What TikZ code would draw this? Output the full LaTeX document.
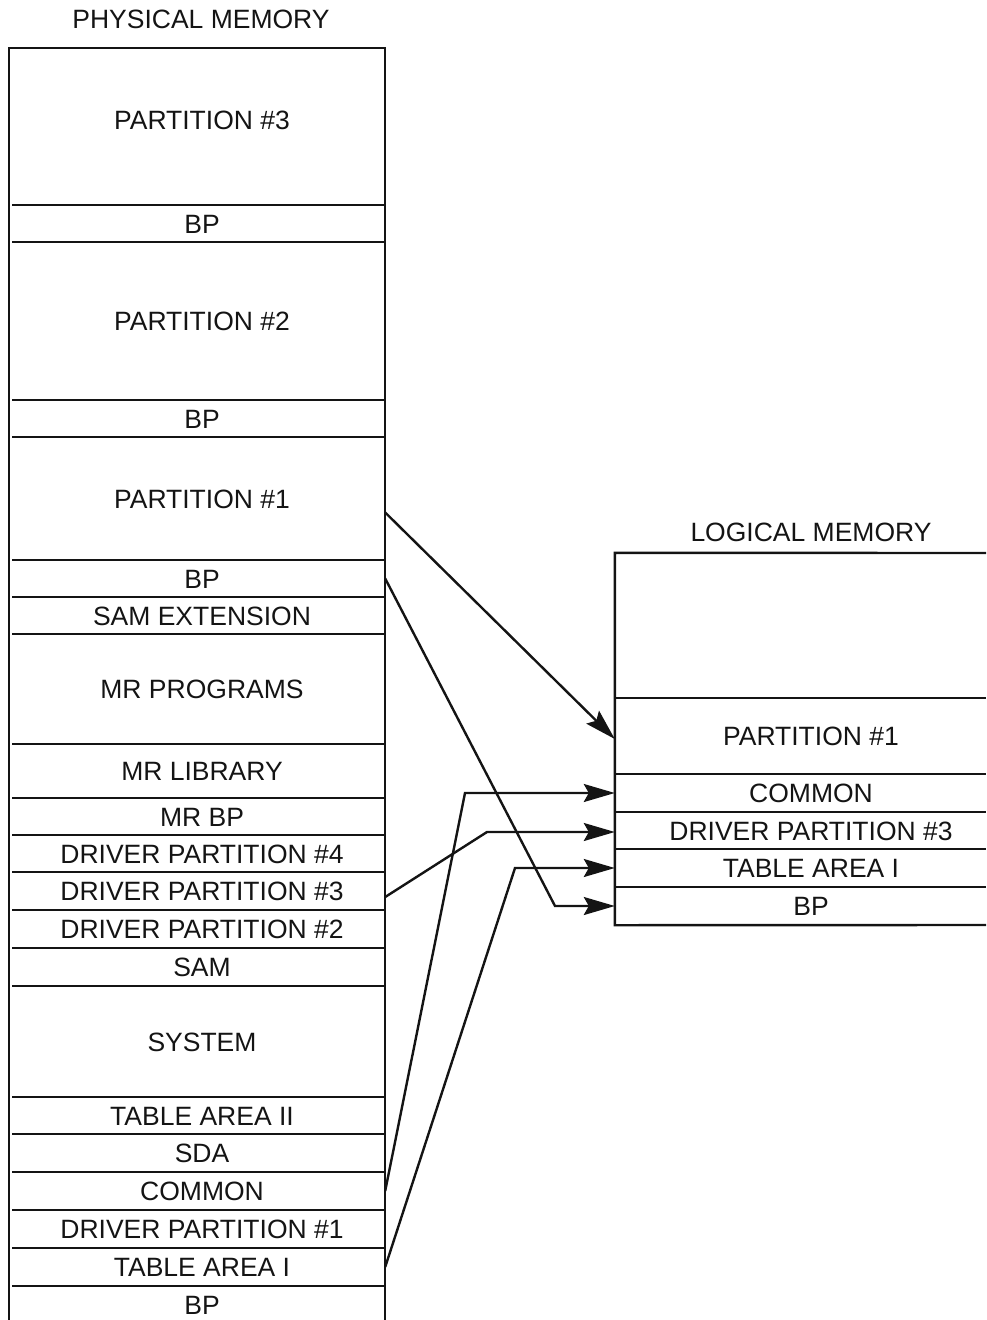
\documentclass[tikz,border=0pt]{standalone}
\usepackage{fontspec}
\setmainfont{Liberation Sans}
\usetikzlibrary{arrows.meta,calc}
\tikzset{
  lbl/.style={inner sep=0pt, text height=19pt, text depth=0pt, font=\fontsize{26.5}{30}\selectfont, text=black!92},
  lcell/.style={lbl, rectangle, minimum width=366pt},
  rcell/.style={lbl, rectangle, minimum width=392pt},
  box/.style={line width=2.4pt, black!92},
  arr/.style={line width=2.4pt, black!92, -{Stealth[length=31pt,width=18pt,inset=5pt]}},
}
\begin{document}
\begin{tikzpicture}[x=1pt,y=-1pt]
\useasboundingbox (0,0) rectangle (986,1320);
% titles
\node[lbl] (tphys) at (201,19) {PHYSICAL MEMORY};
\node[lbl] (tlog) at (811,532) {LOGICAL MEMORY};
% left column cells
\node[lcell, minimum height=157pt, text depth=13pt] (lp3)  at (202,126.5) {PARTITION \#3};
\node[lcell, minimum height=37pt]  (lbp3) at (202,223.5) {BP};
\node[lcell, minimum height=158pt] (lp2)  at (202,321) {PARTITION \#2};
\node[lcell, minimum height=37pt]  (lbp2) at (202,418.5) {BP};
\node[lcell, minimum height=123pt] (lp1)  at (202,498.5) {PARTITION \#1};
\node[lcell, minimum height=37pt]  (lbp1) at (202,578.5) {BP};
\node[lcell, minimum height=37pt]  (lsamx) at (202,615.5) {SAM EXTENSION};
\node[lcell, minimum height=110pt] (lmrp) at (202,689) {MR PROGRAMS};
\node[lcell, minimum height=54pt]  (lmrl) at (202,771) {MR LIBRARY};
\node[lcell, minimum height=37pt]  (lmrbp) at (202,816.5) {MR BP};
\node[lcell, minimum height=37pt]  (ldp4) at (202,853.5) {DRIVER PARTITION \#4};
\node[lcell, minimum height=38pt]  (ldp3) at (202,891) {DRIVER PARTITION \#3};
\node[lcell, minimum height=38pt]  (ldp2) at (202,929) {DRIVER PARTITION \#2};
\node[lcell, minimum height=38pt]  (lsam) at (202,967) {SAM};
\node[lcell, minimum height=111pt] (lsys) at (202,1041.5) {SYSTEM};
\node[lcell, minimum height=37pt]  (ltaii) at (202,1115.5) {TABLE AREA II};
\node[lcell, minimum height=38pt]  (lsda) at (202,1153) {SDA};
\node[lcell, minimum height=38pt]  (lcom) at (202,1191) {COMMON};
\node[lcell, minimum height=38pt]  (ldp1) at (202,1229) {DRIVER PARTITION \#1};
\node[lcell, minimum height=38pt]  (ltai) at (202,1267) {TABLE AREA I};
\node[lcell, minimum height=38pt]  (lbp0) at (202,1305) {BP};
% left box outline
\coordinate (lbl) at (9,1320);
\coordinate (ltl) at (9,48);
\coordinate (ltr) at (385,48);
\coordinate (lbr) at (385,1320);
\draw[box] (lbl) -- (ltl) -- (ltr) -- (lbr);
\foreach \n in {lp3,lbp3,lp2,lbp2,lp1,lbp1,lsamx,lmrp,lmrl,lmrbp,ldp4,ldp3,ldp2,lsam,lsys,ltaii,lsda,lcom,ldp1,ltai}
  \draw[box] (\n.south east) -- ++(-373,0);
% right column cells
\node[rcell, minimum height=145pt] (rblank) at (811,625.5) {};
\node[rcell, minimum height=76pt]  (rp1)  at (811,736) {PARTITION \#1};
\node[rcell, minimum height=38pt]  (rcom) at (811,793) {COMMON};
\node[rcell, minimum height=37pt]  (rdp3) at (811,830.5) {DRIVER PARTITION \#3};
\node[rcell, minimum height=38pt]  (rtai) at (811,868) {TABLE AREA I};
\node[rcell, minimum height=38pt]  (rbp)  at (811,906) {BP};
% right box outline
\coordinate (rtr) at (986,553);
\coordinate (rbr) at (986,925);
\draw[box] (rtr) -- (rblank.north west) -- (rbp.south west) -- (rbr);
\foreach \n in {rblank,rp1,rcom,rdp3,rtai}
  \draw[box] (\n.south west) -- ++(371,0);
% bend points
\coordinate (b2) at (555,906);
\coordinate (b3) at (465,793);
\coordinate (b4) at (487,832);
\coordinate (b5) at (515,868);
% connectors
\draw[arr] ($(lp1.east)+(0,14)$) -- ($(rp1.west)+(0,3)$);
\draw[arr] (lbp1.east) -- (b2) -- (rbp.west);
\draw[arr] (lcom.east) -- (b3) -- (rcom.west);
\draw[arr] ($(ldp3.east)+(0,6)$) -- (b4) -- (b4 -| rdp3.west);
\draw[arr] (ltai.east) -- (b5) -- (rtai.west);
\end{tikzpicture}
\end{document}
